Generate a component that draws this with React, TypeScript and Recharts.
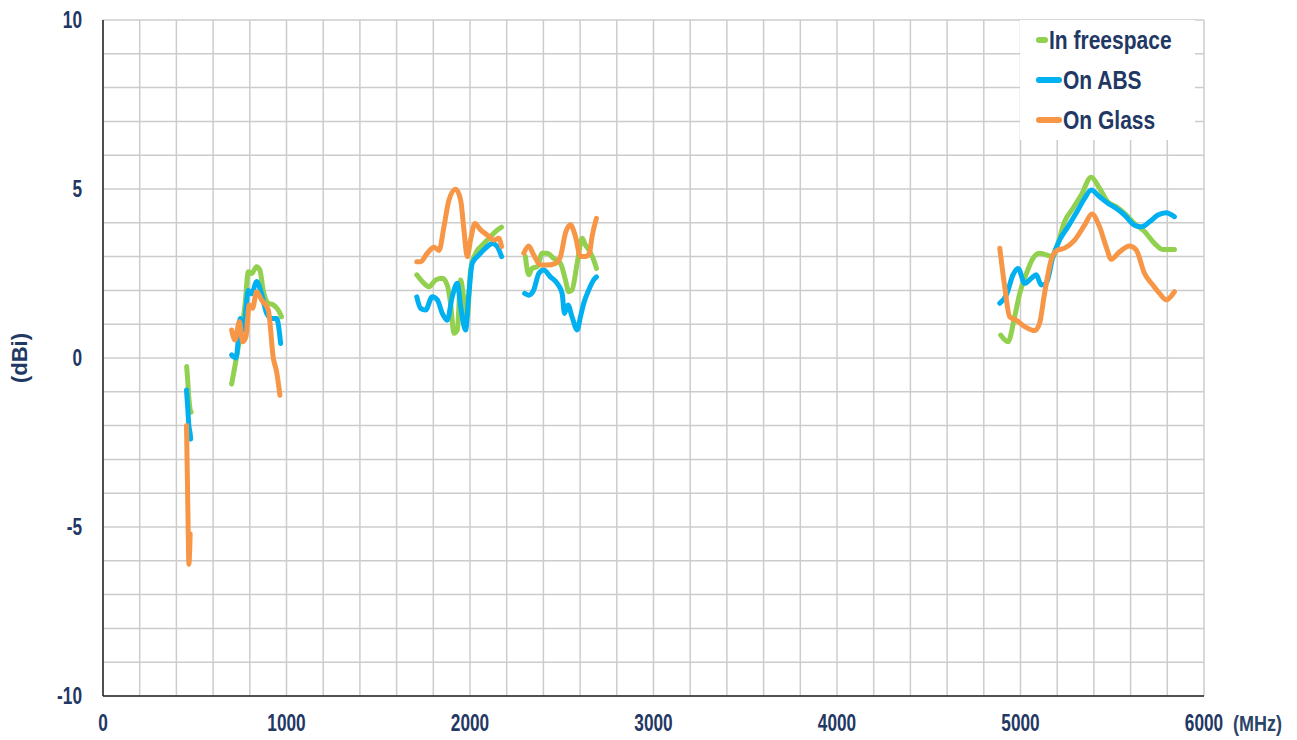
import { LineChart, Line, XAxis, YAxis, CartesianGrid, Legend } from "recharts";

// Realized gain vs frequency
type Pt = [number, number];

const xTicks = [
    0, 200, 400, 600, 800, 1000, 1200, 1400, 1600, 1800, 2000, 2200, 2400, 2600, 2800, 3000,
    3200, 3400, 3600, 3800, 4000, 4200, 4400, 4600, 4800, 5000, 5200, 5400, 5600, 5800, 6000,
];
const yTicks = [-10, -9, -8, -7, -6, -5, -4, -3, -2, -1, 0, 1, 2, 3, 4, 5, 6, 7, 8, 9, 10];

const freespace: Pt[][] = [
    [[456, -0.25], [462, -0.7], [468, -1.2], [474, -1.5], [480, -1.6]],
    [[701, -0.77], [725, -0.06], [747, 0.63], [773, 1.52], [792, 2.55], [810, 2.5], [837, 2.7], [855, 2.6], [873, 2.0], [901, 1.62], [928, 1.57], [955, 1.42], [973, 1.22]],
    [[1710, 2.46], [1740, 2.26], [1776, 2.11], [1813, 2.31], [1849, 2.36], [1876, 2.16], [1894, 1.62], [1913, 0.73], [1931, 0.83], [1949, 2.31], [1967, 1.72], [1985, 1.22], [2003, 2.6], [2031, 3.1], [2067, 3.34], [2103, 3.54], [2139, 3.74], [2172, 3.87]],
    [[2302, 3.0], [2320, 2.46], [2338, 2.65], [2366, 2.7], [2393, 3.1], [2420, 3.1], [2456, 2.95], [2493, 2.8], [2520, 2.31], [2538, 1.96], [2556, 2.01], [2584, 2.8], [2611, 3.54], [2629, 3.34], [2647, 3.2], [2674, 2.9], [2689, 2.65]],
    [[4892, 0.68], [4932, 0.48], [4968, 1.22], [4996, 1.91], [5032, 2.5], [5068, 2.95], [5104, 3.1], [5140, 3.05], [5177, 3.0], [5204, 3.39], [5240, 4.03], [5286, 4.43], [5331, 4.82], [5385, 5.35], [5431, 5.02], [5476, 4.62], [5521, 4.48], [5567, 4.28], [5621, 3.98], [5676, 3.74], [5730, 3.39], [5775, 3.21], [5839, 3.21]],
];

const onAbs: Pt[][] = [
    [[455, -0.95], [462, -1.5], [468, -2.0], [474, -2.2], [478, -2.4]],
    [[701, 0.09], [725, 0.0], [737, 0.53], [747, 1.17], [765, 0.83], [792, 2.0], [810, 1.9], [837, 2.26], [864, 1.9], [892, 1.32], [919, 1.17], [946, 1.17], [968, 0.43]],
    [[1710, 1.81], [1731, 1.47], [1758, 1.42], [1794, 1.81], [1822, 1.72], [1849, 1.32], [1876, 1.12], [1903, 1.81], [1931, 2.21], [1949, 1.52], [1976, 0.83], [1994, 1.91], [2012, 2.8], [2049, 3.05], [2085, 3.25], [2121, 3.39], [2148, 3.3], [2172, 3.0]],
    [[2298, 1.91], [2320, 1.86], [2347, 2.01], [2375, 2.5], [2402, 2.6], [2438, 2.4], [2475, 2.21], [2502, 1.91], [2515, 1.32], [2534, 1.57], [2556, 1.22], [2584, 0.83], [2602, 1.22], [2620, 1.62], [2647, 2.01], [2674, 2.31], [2689, 2.4]],
    [[4887, 1.62], [4923, 1.86], [4959, 2.46], [4987, 2.65], [5023, 2.21], [5059, 2.36], [5086, 2.46], [5113, 2.16], [5140, 2.21], [5177, 3.0], [5213, 3.49], [5258, 3.88], [5313, 4.38], [5349, 4.72], [5385, 4.97], [5431, 4.77], [5476, 4.58], [5521, 4.43], [5567, 4.23], [5621, 3.93], [5658, 3.88], [5703, 4.03], [5749, 4.23], [5794, 4.3], [5839, 4.18]],
];

const onGlass: Pt[][] = [
    [[455, -2.0], [460, -3.6], [464, -5.0], [468, -6.1], [475, -5.2]],
    [[701, 0.83], [719, 0.53], [743, 1.07], [761, 0.48], [779, 0.63], [797, 1.57], [815, 1.47], [837, 1.96], [864, 1.72], [901, 1.42], [928, 0.0], [946, -0.4], [964, -1.1]],
    [[1710, 2.85], [1731, 2.85], [1767, 3.1], [1804, 3.28], [1831, 3.18], [1858, 3.88], [1885, 4.67], [1922, 4.99], [1949, 4.67], [1967, 3.79], [1985, 3.0], [2003, 3.49], [2027, 3.98], [2058, 3.79], [2094, 3.64], [2130, 3.49], [2157, 3.54], [2172, 3.3]],
    [[2293, 3.1], [2320, 3.31], [2347, 3.05], [2384, 2.75], [2420, 2.75], [2466, 2.8], [2493, 3.0], [2520, 3.69], [2547, 3.94], [2575, 3.59], [2602, 3.0], [2629, 3.0], [2651, 3.1], [2665, 3.59], [2689, 4.13]],
    [[4887, 3.25], [4914, 2.11], [4941, 1.22], [4977, 1.12], [5023, 0.93], [5077, 0.81], [5104, 1.03], [5131, 1.91], [5167, 2.9], [5195, 3.17], [5240, 3.25], [5295, 3.49], [5349, 3.93], [5389, 4.26], [5431, 3.88], [5467, 3.29], [5494, 2.92], [5540, 3.14], [5594, 3.31], [5630, 3.2], [5676, 2.5], [5721, 2.16], [5758, 1.91], [5794, 1.72], [5839, 1.96]],
];

// flatten segments, null point between them breaks the line
const toRows = (segs: Pt[][]) => {
    const rows: { mhz: number; dbi: number | null }[] = [];
    segs.forEach((seg, i) => {
        if (i > 0) rows.push({ mhz: seg[0][0] - 1, dbi: null });
        seg.forEach(([mhz, dbi]) => rows.push({ mhz, dbi }));
    });
    return rows;
};

const series = [
    { name: "In freespace", color: "#92D050", rows: toRows(freespace) },
    { name: "On ABS", color: "#00B0F0", rows: toRows(onAbs) },
    { name: "On Glass", color: "#F79646", rows: toRows(onGlass) },
];

const textColor = "#1F3864";
const font = "'Liberation Sans', Arial, sans-serif";

// narrow-looking bold text like the original export
const NarrowText = ({ x, y, anchor, children, size = 23, sx = 0.75, fill = textColor, baseline }: any) => (
    <text
        transform={`translate(${x},${y}) scale(${sx},1)`}
        textAnchor={anchor}
        dominantBaseline={baseline}
        fill={fill}
        fontSize={size}
        fontWeight={700}
        fontFamily={font}
    >
        {children}
    </text>
);

const XTick = (props: any) => {
    const v = props.payload.value;
    if (v % 1000 !== 0) return <g />;
    return <NarrowText x={props.x} y={props.y + 35} anchor="middle">{String(v)}</NarrowText>;
};

const YTick = (props: any) => {
    const v = props.payload.value;
    if (v % 5 !== 0) return <g />;
    return <NarrowText x={props.x} y={props.y} anchor="end" baseline="central">{String(v)}</NarrowText>;
};

const renderLegend = () => (
    <div style={{ background: "#fff", width: 175, fontFamily: font }}>
        {series.map((s) => (
            <div key={s.name} style={{ display: "flex", alignItems: "center", height: 40 }}>
                <span style={{ display: "inline-block", width: 26, height: 6, borderRadius: 3, background: s.color, marginLeft: 16 }} />
                <span style={{ display: "inline-block", fontSize: 25, fontWeight: 700, color: textColor, marginLeft: 1, transform: "scaleX(0.84)", transformOrigin: "left center", whiteSpace: "nowrap" }}>{s.name}</span>
            </div>
        ))}
    </div>
);

export default function App() {
    return (
        <div style={{ position: "absolute", left: 0, top: 0, background: "#fff" }}>
            <LineChart width={1297} height={740} margin={{ top: 20, right: 93, left: 43, bottom: 0 }}>
                <CartesianGrid stroke="#cccccc" strokeWidth={1.5} />
                <XAxis
                    type="number"
                    dataKey="mhz"
                    domain={[0, 6000]}
                    ticks={xTicks}
                    interval={0}
                    height={44}
                    tickLine={false}
                    tickSize={0}
                    tickMargin={0}
                    axisLine={{ stroke: "#222", strokeWidth: 1.5 }}
                    tick={XTick}
                    label={{
                        content: (props: any) => {
                            const vb = props.viewBox || {};
                            return (
                                <NarrowText x={vb.x + vb.width + 29} y={vb.y + 35} anchor="start" size={22} sx={0.82} fill="#2B4468">
                                    (MHz)
                                </NarrowText>
                            );
                        },
                    }}
                />
                <YAxis
                    type="number"
                    domain={[-10, 10]}
                    ticks={yTicks}
                    interval={0}
                    width={60}
                    tickLine={false}
                    tickSize={0}
                    tickMargin={21}
                    axisLine={{ stroke: "#222", strokeWidth: 1.5 }}
                    tick={YTick}
                    label={{
                        content: (props: any) => {
                            const vb = props.viewBox || {};
                            const x = vb.x - 24;
                            const y = vb.y + vb.height / 2;
                            return (
                                <text x={x} y={y} transform={`rotate(-90 ${x} ${y})`} textAnchor="middle" dominantBaseline="central" fill={textColor} fontSize={22} fontWeight={700} fontFamily={font}>
                                    (dBi)
                                </text>
                            );
                        },
                    }}
                />
                <Legend
                    layout="vertical"
                    align="center"
                    verticalAlign="middle"
                    content={renderLegend}
                    wrapperStyle={{ top: 20, left: 1020, width: 175 }}
                />
                {series.map((s) => (
                    <Line
                        key={s.name}
                        name={s.name}
                        data={s.rows}
                        dataKey="dbi"
                        type="monotone"
                        stroke={s.color}
                        strokeWidth={5}
                        strokeLinecap="round"
                        strokeLinejoin="round"
                        dot={false}
                        activeDot={false}
                        isAnimationActive={false}
                    />
                ))}
            </LineChart>
        </div>
    );
}
